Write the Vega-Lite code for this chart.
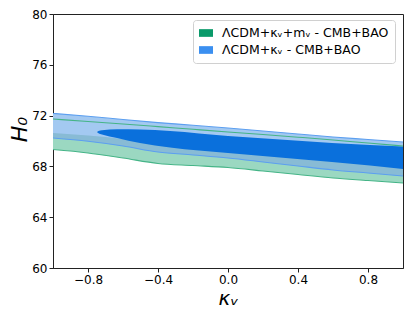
{
  "$schema": "https://vega.github.io/schema/vega-lite/v6.json",
  "autosize": {"type": "none"},
  "padding": {"left": 53, "top": 14, "right": 10, "bottom": 54},
  "width": 350,
  "height": 254,
  "background": "white",
  "view": {"stroke": "#222", "strokeWidth": 1},
  "config": {
    "font": "DejaVu Sans",
    "axis": {
      "grid": false,
      "zindex": 1,
      "domainColor": "#222",
      "tickColor": "#222",
      "tickSize": 4,
      "labelFontSize": 12,
      "labelColor": "#000",
      "labelFont": "DejaVu Sans",
      "labelPadding": 2,
      "titleFont": "DejaVu Sans",
      "titleFontWeight": "normal",
      "titleFontStyle": "italic",
      "titleColor": "#000"
    }
  },
  "datasets": {
    "outer": [
      {"kappa": -1.0, "blue_hi": 72.17, "blue_lo": 70.24, "green_hi": 71.73, "green_lo": 69.33, "green68_hi": 70.63},
      {"kappa": -0.8, "blue_hi": 71.95, "blue_lo": 69.98, "green_hi": 71.54, "green_lo": 69.06, "green68_hi": 70.43},
      {"kappa": -0.6, "blue_hi": 71.69, "blue_lo": 69.61, "green_hi": 71.34, "green_lo": 68.66, "green68_hi": 70.16},
      {"kappa": -0.4, "blue_hi": 71.45, "blue_lo": 69.13, "green_hi": 71.13, "green_lo": 68.23, "green68_hi": 69.84},
      {"kappa": -0.2, "blue_hi": 71.24, "blue_lo": 68.90, "green_hi": 70.92, "green_lo": 68.07, "green68_hi": 69.53},
      {"kappa": 0.0, "blue_hi": 71.02, "blue_lo": 68.66, "green_hi": 70.71, "green_lo": 67.91, "green68_hi": 69.29},
      {"kappa": 0.2, "blue_hi": 70.79, "blue_lo": 68.35, "green_hi": 70.51, "green_lo": 67.64, "green68_hi": 69.06},
      {"kappa": 0.4, "blue_hi": 70.55, "blue_lo": 68.03, "green_hi": 70.30, "green_lo": 67.36, "green68_hi": 68.82},
      {"kappa": 0.6, "blue_hi": 70.32, "blue_lo": 67.72, "green_hi": 70.08, "green_lo": 67.09, "green68_hi": 68.58},
      {"kappa": 0.8, "blue_hi": 70.12, "blue_lo": 67.48, "green_hi": 69.84, "green_lo": 66.89, "green68_hi": 68.35},
      {"kappa": 1.0, "blue_hi": 69.92, "blue_lo": 67.24, "green_hi": 69.61, "green_lo": 66.69, "green68_hi": 68.11}
    ],
    "inner": [
      {"kappa": -0.7486, "hi": 70.71, "lo": 70.71},
      {"kappa": -0.74, "hi": 70.79, "lo": 70.61},
      {"kappa": -0.72, "hi": 70.84, "lo": 70.51},
      {"kappa": -0.634, "hi": 70.92, "lo": 70.24},
      {"kappa": -0.503, "hi": 70.91, "lo": 69.84},
      {"kappa": -0.331, "hi": 70.79, "lo": 69.49},
      {"kappa": 0.0, "hi": 70.39, "lo": 69.06},
      {"kappa": 0.297, "hi": 70.12, "lo": 68.70},
      {"kappa": 0.594, "hi": 69.84, "lo": 68.35},
      {"kappa": 0.811, "hi": 69.69, "lo": 68.07},
      {"kappa": 1.0, "hi": 69.57, "lo": 67.80}
    ],
    "legend": [
      {"kappa": 0, "H0": 70, "model": "ΛCDM+κᵥ+mᵥ - CMB+BAO"},
      {"kappa": 0, "H0": 70, "model": "ΛCDM+κᵥ - CMB+BAO"}
    ]
  },
  "encoding": {
    "x": {
      "field": "kappa",
      "type": "quantitative",
      "scale": {"domain": [-1, 1], "nice": false, "zero": false},
      "axis": {"values": [-0.8, -0.4, 0, 0.4, 0.8], "format": ".1f", "title": "κᵥ", "titleFontSize": 20, "titleBaseline": "alphabetic", "titleY": 36}
    }
  },
  "layer": [
    {
      "data": {"name": "outer"},
      "mark": {"type": "area", "interpolate": "monotone", "color": "#9bd8c1", "opacity": 1},
      "encoding": {
        "y": {"field": "green_hi", "type": "quantitative", "title": "H₀",
              "scale": {"domain": [60, 80], "nice": false, "zero": false},
              "axis": {"values": [60, 64, 68, 72, 76, 80], "format": "d", "titleFontSize": 22, "titleBaseline": "alphabetic", "titleX": -27, "titleY": 115}},
        "y2": {"field": "green_lo"}
      }
    },
    {
      "data": {"name": "outer"},
      "mark": {"type": "area", "interpolate": "monotone", "color": "#a3c9f1", "opacity": 1},
      "encoding": {
        "y": {"field": "blue_hi", "type": "quantitative", "title": "H₀"},
        "y2": {"field": "blue_lo"}
      }
    },
    {
      "data": {"name": "outer"},
      "mark": {"type": "area", "interpolate": "monotone", "color": "#2a8a70", "opacity": 0.22},
      "encoding": {
        "y": {"field": "green68_hi", "type": "quantitative", "title": "H₀"},
        "y2": {"field": "blue_lo"}
      }
    },
    {
      "data": {"name": "inner"},
      "mark": {"type": "area", "interpolate": "monotone", "color": "#0a70dc", "opacity": 1},
      "encoding": {
        "y": {"field": "hi", "type": "quantitative", "title": "H₀"},
        "y2": {"field": "lo"}
      }
    },
    {
      "data": {"name": "outer"},
      "mark": {"type": "line", "interpolate": "monotone", "color": "#45b487", "strokeWidth": 1.1},
      "encoding": {"y": {"field": "green_hi", "type": "quantitative", "title": "H₀"}}
    },
    {
      "data": {"name": "outer"},
      "mark": {"type": "line", "interpolate": "monotone", "color": "#45b487", "strokeWidth": 1.1},
      "encoding": {"y": {"field": "green_lo", "type": "quantitative", "title": "H₀"}}
    },
    {
      "data": {"name": "outer"},
      "mark": {"type": "line", "interpolate": "monotone", "color": "#5c9ff0", "strokeWidth": 1.1},
      "encoding": {"y": {"field": "blue_hi", "type": "quantitative", "title": "H₀"}}
    },
    {
      "data": {"name": "outer"},
      "mark": {"type": "line", "interpolate": "monotone", "color": "#5c9ff0", "strokeWidth": 1.1},
      "encoding": {"y": {"field": "blue_lo", "type": "quantitative", "title": "H₀"}}
    },
    {
      "data": {"name": "legend"},
      "mark": {"type": "square", "opacity": 0, "filled": true},
      "encoding": {
        "y": {"field": "H0", "type": "quantitative", "title": "H₀"},
        "color": {
          "field": "model",
          "type": "nominal",
          "scale": {"domain": ["ΛCDM+κᵥ+mᵥ - CMB+BAO", "ΛCDM+κᵥ - CMB+BAO"], "range": ["#0a9a6a", "#3b8ff0"]},
          "legend": {
            "orient": "none",
            "legendX": 140,
            "legendY": 6,
            "title": null,
            "symbolType": "M-1,-0.55H1V0.55H-1Z",
            "symbolSize": 196,
            "symbolOpacity": 1,
            "symbolStrokeWidth": 0,
            "labelFontSize": 12.5,
            "labelLimit": 300,
            "labelFont": "DejaVu Sans",
            "labelColor": "#000",
            "labelOffset": 9,
            "padding": 6,
            "rowPadding": 3,
            "fillColor": "rgba(255,255,255,0.8)",
            "strokeColor": "#d0d0d0",
            "cornerRadius": 3
          }
        }
      }
    }
  ]
}
